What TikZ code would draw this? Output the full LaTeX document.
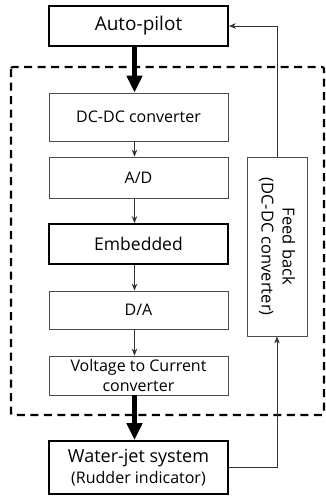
\documentclass[tikz,border=0pt]{standalone}
\usepackage{fontspec}
\setmainfont{Open Sans}
\usetikzlibrary{arrows.meta}

\begin{document}
\begin{tikzpicture}[x=1pt,y=-1pt,
    thinbox/.style={draw=black!70, line width=0.8pt, minimum width=179pt,
      inner sep=0pt, align=center, font=\fontsize{16}{20}\selectfont},
    thickbox/.style={thinbox, draw=black, line width=1.8pt},
    thinarrow/.style={-{Stealth[length=7pt,width=5.5pt]}, line width=0.7pt, black!80},
    fatarrow/.style={-{Triangle[length=17pt,width=15pt]}, line width=5.7pt}]
    \useasboundingbox (0,0) rectangle (326,496);

    % Dashed frame
    \draw[line width=2.2pt, dash pattern=on 8pt off 5.5pt, rounded corners=2pt]
      (11,67) rectangle (324,415);

    % Main column
    \node[thickbox, minimum height=40pt, font=\fontsize{19}{22}\selectfont] (auto) at (138.5,26) {Auto-pilot};
    \node[thinbox, minimum height=48pt] (dcdc) at (138.5,117) {DC-DC converter};
    \node[thinbox, minimum height=41pt] (ad) at (138.5,177.5) {A/D};
    \node[thickbox, minimum height=40pt, font=\fontsize{17.5}{20}\selectfont] (emb) at (138.5,244) {Embedded};
    \node[thinbox, minimum height=38pt] (da) at (138.5,310) {D/A};
    \node[thinbox, minimum height=39pt] (vtoc) at (138.5,375.5) {Voltage to Current\\converter};
    \node[thickbox, minimum height=53pt, font=\fontsize{18}{21}\selectfont] (water) at (138.5,467.5)
      {Water-jet system\\{\fontsize{16}{18}\selectfont(Rudder indicator)}};

    % Feed back box
    \node[thinbox, minimum width=179pt, minimum height=60pt, rotate=-90,
      font=\fontsize{16.5}{21}\selectfont] (fb) at (277,246.5)
      {Feed back\\(DC-DC converter)};

    % Connectors
    \coordinate (col) at (134.5,0);
    \draw[fatarrow] (auto.south -| col) -- (dcdc.north -| col);
    \draw[thinarrow] (dcdc.south -| col) -- (ad.north -| col);
    \draw[thinarrow] (ad.south -| col) -- (emb.north -| col);
    \draw[thinarrow] (emb.south -| col) -- (da.north -| col);
    \draw[thinarrow] (da.south -| col) -- (vtoc.north -| col);
    \draw[fatarrow] (vtoc.south -| col) -- (water.north -| col);
    \draw[thinarrow] (water.east) -| (fb.east);
    \draw[thinarrow] (fb.west) |- (auto.east);
\end{tikzpicture}
\end{document}
